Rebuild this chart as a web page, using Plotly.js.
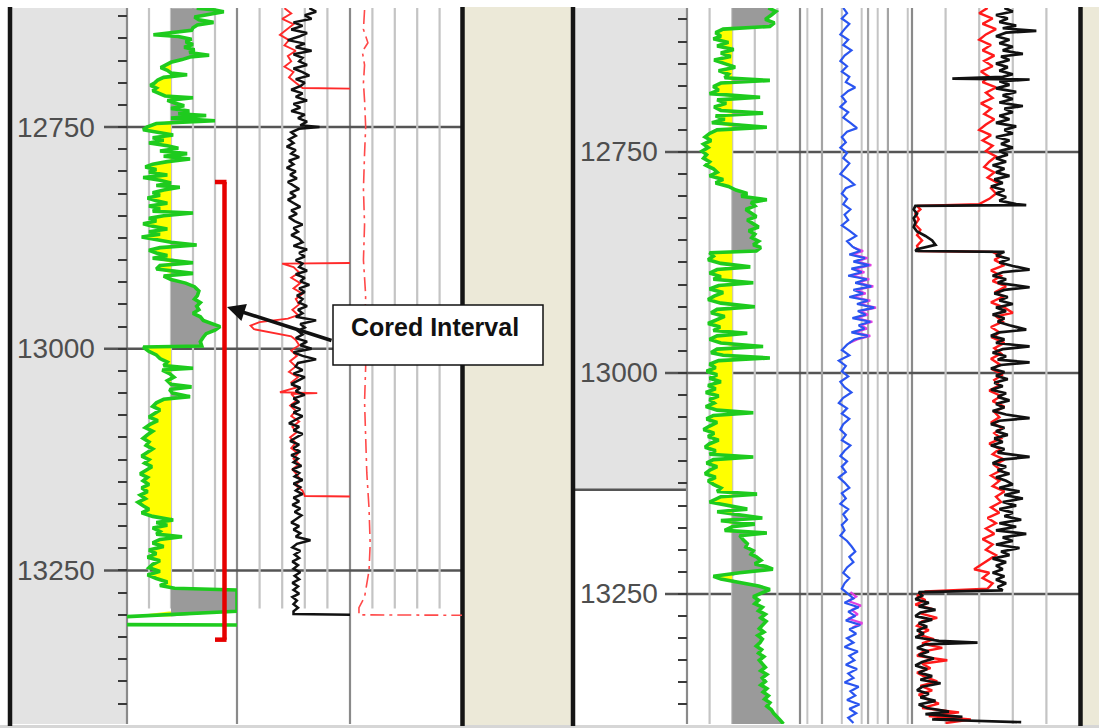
<!DOCTYPE html>
<html>
<head>
<meta charset="utf-8">
<script src="https://cdn.plot.ly/plotly-3.0.1.min.js"></script>
<style>
  html, body { margin: 0; padding: 0; background: #ffffff; }
  #plot { width: 1099px; height: 728px; }
</style>
</head>
<body>
<div id="plot"></div>
<script>
// ---------- depth annotations ----------
const depthLabels = [12750, 13000, 13250];
const coredInterval = [12812, 13328];   // top / base of the cored section (well A)
const grCutoff = 60;                     // shale / sand shading cutoff (API)

// ---------- Well A (left) : [depth, value] ----------
const wellA_gr = [
  [12616,95],[12618,120],[12620,132],[12623,110],[12626,92],[12629,98],[12632,118],[12635,96],[12638,90],[12641,88],
  [12644,60],[12646,36],[12648,70],[12651,88],[12654,80],[12657,90],[12660,78],[12663,92],[12666,85],[12669,112],
  [12671,86],[12674,75],[12677,60],[12680,52],[12683,46],[12686,55],[12689,60],[12691,82],[12694,50],[12697,42],
  [12700,38],[12703,32],[12706,40],[12709,35],[12712,45],[12715,52],[12717,90],[12720,55],[12723,65],[12726,78],
  [12729,60],[12732,85],[12735,70],[12737,108],[12740,60],[12743,120],[12746,40],[12750,27],[12753,22],[12756,45],
  [12759,63],[12762,35],[12765,50],[12768,30],[12771,55],[12774,70],[12777,45],[12780,82],[12783,50],[12786,86],
  [12789,55],[12792,35],[12795,25],[12798,40],[12801,30],[12804,55],[12807,22],[12810,45],[12813,60],[12816,40],
  [12818,72],[12821,50],[12824,35],[12827,45],[12830,28],[12833,40],[12836,55],[12839,30],[12842,45],[12845,35],
  [12847,90],[12850,50],[12853,30],[12856,40],[12859,22],[12862,35],[12865,55],[12868,30],[12871,45],[12874,20],
  [12877,40],[12880,60],[12883,95],[12886,45],[12889,30],[12892,40],[12895,55],[12898,35],[12903,90],[12906,45],
  [12910,40],[12915,90],[12918,50],[12922,60],[12926,80],[12930,92],[12935,98],[12940,96],[12944,92],[12948,100],
  [12952,95],[12956,98],[12960,90],[12964,100],[12968,104],[12971,115],[12975,127],[12979,120],[12983,108],[12987,104],
  [12992,100],[12997,102],[12998,22],[13003,30],[13007,40],[13011,45],[13015,55],[13019,50],[13022,90],[13024,48],
  [13028,58],[13032,64],[13036,55],[13040,60],[13043,88],[13046,58],[13050,62],[13054,86],[13057,50],[13061,40],
  [13065,35],[13069,45],[13073,38],[13077,30],[13081,42],[13085,32],[13089,25],[13093,35],[13097,28],[13101,22],
  [13105,30],[13109,26],[13113,35],[13117,28],[13121,20],[13125,30],[13129,24],[13133,34],[13137,25],[13141,18],
  [13145,28],[13149,22],[13153,30],[13157,20],[13161,28],[13165,18],[13169,25],[13173,15],[13177,22],[13181,30],
  [13185,20],[13189,35],[13193,63],[13196,40],[13199,55],[13202,35],[13206,45],[13209,40],[13212,75],[13215,45],
  [13219,35],[13223,50],[13227,30],[13231,40],[13235,28],[13239,45],[13243,35],[13247,30],[13251,45],[13255,28],
  [13259,40],[13263,55],[13267,45],[13270,65],[13272,150],[13296,150],[13302,0],
  [13306,null],[13311,0],[13311.5,150]
];
const wellA_t2Black = [
  [12616,64],[12620,70],[12624,60],[12628,66],[12632,50],[12636,58],[12640,48],[12644,62],[12648,55],[12652,45],
  [12656,60],[12660,52],[12664,66],[12668,50],[12672,58],[12676,55],[12680,62],[12684,50],[12688,58],[12692,64],
  [12696,52],[12700,60],[12704,56],[12708,48],[12712,58],[12716,52],[12720,62],[12724,50],[12728,56],[12732,48],
  [12736,60],[12740,54],[12744,62],[12748,56],[12750,73],[12752,55],[12756,48],[12760,52],[12764,46],[12768,50],
  [12772,44],[12776,52],[12780,48],[12784,55],[12788,46],[12792,50],[12796,44],[12800,52],[12804,47],[12808,53],
  [12812,45],[12816,50],[12820,55],[12824,47],[12828,52],[12832,45],[12836,50],[12840,56],[12844,48],[12848,53],
  [12852,46],[12856,51],[12860,58],[12864,50],[12868,54],[12872,48],[12876,55],[12880,58],[12884,50],[12888,62],
  [12892,55],[12896,60],[12900,52],[12904,58],[12908,55],[12912,62],[12916,52],[12920,60],[12924,56],[12928,64],
  [12932,55],[12936,60],[12940,53],[12944,58],[12948,55],[12952,62],[12956,54],[12960,58],[12964,52],[12968,70],
  [12972,56],[12976,60],[12980,54],[12984,58],[12988,52],[12992,62],[12996,56],[13000,66],[13004,50],[13008,58],
  [13012,70],[13016,54],[13020,52],[13024,58],[13028,50],[13032,60],[13036,54],[13040,48],[13044,56],[13048,52],
  [13052,60],[13056,50],[13060,55],[13064,48],[13068,56],[13072,50],[13076,58],[13080,52],[13084,46],[13088,55],
  [13092,50],[13096,58],[13100,52],[13104,47],[13108,55],[13112,50],[13116,56],[13120,48],[13124,54],[13128,50],
  [13132,57],[13136,49],[13140,55],[13144,51],[13148,58],[13152,50],[13156,56],[13160,52],[13164,58],[13168,50],
  [13172,55],[13176,49],[13180,56],[13184,51],[13188,57],[13192,52],[13196,48],[13200,55],[13204,50],[13208,56],
  [13212,52],[13216,65],[13220,53],[13224,49],[13228,56],[13232,51],[13236,55],[13240,49],[13244,54],[13248,50],
  [13252,56],[13256,51],[13260,55],[13264,49],[13268,54],[13272,50],[13276,55],[13280,49],[13284,53],[13288,50],
  [13292,54],[13296,50],[13299,50],[13300,100]
];
const wellA_t2Red = [
  [12616,42],[12622,48],[12628,40],[12634,50],[12640,44],[12646,38],[12652,46],[12658,42],[12664,52],[12670,45],
  [12676,48],[12682,42],[12688,50],[12694,46],[12700,52],[12705,58],[12706,58],[12707,120],[12903,120],[12904,40],
  [12908,50],[12914,55],[12920,48],[12926,56],[12932,50],[12938,58],[12944,52],[12950,55],[12956,49],[12962,54],
  [12966,45],[12970,20],[12974,12],[12978,15],[12982,30],[12986,48],[12990,52],[12996,55],[13002,48],[13008,53],
  [13014,47],[13020,52],[13026,46],[13032,54],[13038,48],[13044,52],[13049,38],[13050,71],[13051,48],[13058,53],
  [13064,47],[13070,52],[13076,48],[13082,55],[13088,49],[13094,53],[13100,47],[13106,52],[13112,48],[13118,54],
  [13124,50],[13130,55],[13136,49],[13142,53],[13148,56],[13154,52],[13160,58],[13166,60],[13167,120]
];
const wellA_t3Red = [
  [12618,13],[12640,12],[12655,16],[12665,11],[12680,13],[12700,12],[12720,13],[12750,14],[12780,13],[12820,12],
  [12860,13],[12900,12],[12940,14],[12980,13],[13020,14],[13060,13],[13100,14],[13140,15],[13180,17],[13220,18],
  [13250,17],[13280,13],[13292,8],[13300,8],[13300.5,100]
];

// ---------- Well B (right) : [depth, value] ----------
const wellB_gr = [
  [12587,108],[12591,118],[12595,112],[12600,104],[12604,116],[12608,110],[12611,48],[12615,38],[12619,45],[12622,35],
  [12626,55],[12630,40],[12634,62],[12638,45],[12642,58],[12646,36],[12650,50],[12654,64],[12658,42],[12662,55],
  [12666,50],[12669,110],[12672,45],[12676,35],[12680,42],[12684,30],[12688,97],[12691,40],[12695,52],[12699,36],
  [12703,45],[12706,101],[12709,38],[12713,50],[12717,33],[12722,106],[12725,40],[12729,30],[12733,24],[12737,32],
  [12741,22],[12745,28],[12749,20],[12753,26],[12757,22],[12761,30],[12765,25],[12769,35],[12773,40],[12777,30],
  [12781,48],[12785,38],[12789,55],[12793,65],[12797,80],[12800,72],[12804,106],[12807,85],[12811,90],[12815,78],
  [12819,85],[12823,92],[12827,80],[12831,88],[12835,95],[12839,82],[12843,90],[12847,86],[12851,95],[12855,88],
  [12858,98],[12862,92],[12864,30],[12868,35],[12872,28],[12876,45],[12880,84],[12883,40],[12887,30],[12891,45],
  [12894,35],[12898,88],[12901,42],[12905,30],[12909,48],[12913,36],[12917,28],[12921,45],[12925,90],[12928,40],
  [12932,32],[12936,50],[12940,38],[12944,28],[12948,44],[12952,35],[12955,80],[12958,40],[12962,30],[12966,45],
  [12970,101],[12973,40],[12977,32],[12980,48],[12983,110],[12986,42],[12990,30],[12994,38],[12998,26],[13002,40],
  [13006,30],[13010,45],[13014,28],[13018,38],[13022,25],[13026,42],[13030,30],[13034,36],[13038,25],[13042,40],
  [13045,88],[13048,35],[13052,26],[13056,40],[13060,30],[13064,22],[13068,36],[13072,28],[13076,42],[13080,30],
  [13084,24],[13088,38],[13092,30],[13095,88],[13098,35],[13102,26],[13106,40],[13110,30],[13114,24],[13118,38],
  [13122,28],[13126,35],[13130,45],[13134,40],[13137,93],[13140,45],[13146,30],[13150,55],[13154,80],[13157,40],
  [13161,70],[13164,100],[13167,45],[13171,90],[13174,60],[13178,50],[13181,106],[13184,70],[13189,75],[13193,80],
  [13197,78],[13201,88],[13205,85],[13208,92],[13212,98],[13216,90],[13219,105],[13222,114],[13226,70],[13230,35],
  [13233,45],[13237,70],[13241,95],[13245,110],[13249,100],[13253,88],[13257,95],[13261,90],[13265,100],[13269,95],
  [13273,104],[13277,98],[13281,105],[13285,100],[13289,96],[13293,102],[13297,94],[13301,100],[13305,97],[13309,92],
  [13313,99],[13317,95],[13321,102],[13325,96],[13329,100],[13333,104],[13337,98],[13341,106],[13345,100],[13349,104],
  [13353,98],[13357,106],[13361,101],[13365,108],[13369,103],[13373,110],[13377,106],[13381,112],[13385,115],[13389,120],
  [13393,124],[13397,128]
];
const wellB_t2Blue = [
  [12587,2.1],[12593,2.4],[12599,2.0],[12605,2.6],[12611,2.2],[12617,1.9],[12623,2.5],[12629,2.1],[12635,2.8],[12641,2.2],
  [12647,1.9],[12653,2.4],[12659,2.0],[12665,2.6],[12671,2.3],[12677,3.2],[12681,2.5],[12687,2.0],[12693,2.3],[12699,1.9],
  [12705,2.5],[12711,2.1],[12717,2.7],[12723,3.4],[12727,2.4],[12733,2.0],[12739,2.3],[12745,1.9],[12751,2.4],[12757,2.1],
  [12763,2.6],[12769,2.2],[12775,1.9],[12781,2.5],[12787,3.1],[12791,2.3],[12797,2.0],[12803,2.4],[12809,2.1],[12815,2.7],
  [12821,2.2],[12827,2.5],[12833,2.0],[12839,2.6],[12845,3.3],[12851,2.4],[12857,2.9],[12862,3.8],[12866,2.6],[12870,4.5],
  [12874,3.0],[12878,5.2],[12882,2.8],[12886,4.0],[12890,2.5],[12894,4.8],[12898,3.2],[12902,5.6],[12906,3.0],[12910,4.2],
  [12914,2.6],[12918,5.0],[12922,3.4],[12926,6.2],[12930,3.5],[12934,4.6],[12938,2.9],[12942,5.4],[12946,3.6],[12950,4.4],
  [12954,2.8],[12958,5.0],[12962,3.1],[12968,2.4],[12974,2.0],[12980,2.6],[12986,1.8],[12992,2.3],[12998,2.0],[13004,2.5],
  [13010,1.9],[13016,2.2],[13022,2.8],[13028,2.1],[13034,1.8],[13040,2.4],[13046,2.0],[13052,2.6],[13058,2.1],[13064,1.9],
  [13070,2.3],[13076,2.0],[13082,2.7],[13088,2.2],[13094,1.9],[13100,2.4],[13106,2.0],[13112,2.3],[13118,1.8],[13124,2.2],
  [13130,2.6],[13136,2.0],[13142,2.3],[13148,1.9],[13154,2.5],[13160,2.1],[13166,2.4],[13172,2.0],[13178,2.2],[13184,1.9],
  [13190,2.4],[13196,2.8],[13202,3.2],[13208,2.6],[13214,3.0],[13220,2.4],[13226,2.1],[13232,2.6],[13238,2.2],[13244,2.0],
  [13250,2.5],[13255,3.0],[13260,2.2],[13265,3.6],[13270,2.5],[13275,3.2],[13280,2.3],[13285,3.8],[13290,2.6],[13295,3.3],
  [13300,2.4],[13305,3.0],[13310,2.2],[13315,3.5],[13320,2.6],[13325,3.1],[13330,2.3],[13335,3.4],[13340,2.5],[13345,3.0],
  [13350,2.2],[13355,3.6],[13360,2.7],[13365,3.2],[13370,2.4],[13375,3.7],[13380,2.6],[13385,3.3],[13390,2.5],[13396,3.0]
];
const wellB_t2Mag = [
  [12858,3.0],[12862,4.2],[12866,2.9],[12870,4.9],[12874,3.3],[12878,5.6],[12882,3.1],[12886,4.4],[12890,2.8],[12894,5.2],
  [12898,3.5],[12902,6.0],[12906,3.3],[12910,4.6],[12914,2.9],[12918,5.4],[12922,3.7],[12926,6.6],[12930,3.8],[12934,5.0],
  [12938,3.2],[12942,5.8],[12946,3.9],[12950,4.8],[12954,3.1],[12958,5.4],[12962,3.4],[12966,2.6],
  [13000,null],
  [13248,2.7],[13253,3.3],[13258,2.5],[13263,3.9],[13268,2.8],[13273,3.5],[13278,2.5],[13283,4.1],[13288,2.9]
];
const wellB_t3Black = [
  [12587,55],[12591,60],[12595,50],[12599,57],[12603,52],[12607,62],[12610,54],[12613,74],[12615,56],[12619,50],
  [12623,58],[12627,52],[12631,60],[12635,54],[12639,66],[12642,53],[12646,58],[12650,50],[12654,57],[12658,52],
  [12662,60],[12665,54],[12667,24],[12668,70],[12670,52],[12674,58],[12678,50],[12682,62],[12686,54],[12690,60],
  [12694,52],[12698,66],[12701,55],[12705,60],[12709,52],[12713,58],[12717,50],[12721,62],[12725,55],[12729,60],
  [12733,50],[12737,58],[12741,53],[12745,60],[12749,52],[12753,57],[12757,50],[12761,56],[12765,48],[12769,55],
  [12773,50],[12777,58],[12781,49],[12785,54],[12789,47],[12793,55],[12797,50],[12801,56],[12805,52],[12809,62],
  [12810,68],[12811,2],[12815,1],[12820,3],[12825,1],[12830,2],[12835,1],[12840,3],[12845,8],[12850,12],
  [12855,14],[12860,3],[12862,2],[12863,55],[12867,50],[12871,58],[12875,52],[12879,60],[12883,70],[12886,54],
  [12890,48],[12894,56],[12898,51],[12903,70],[12906,55],[12910,49],[12914,57],[12918,52],[12922,60],[12926,50],
  [12930,56],[12934,48],[12938,55],[12942,51],[12946,58],[12951,68],[12954,52],[12958,47],[12962,55],[12966,50],
  [12970,70],[12973,54],[12977,48],[12981,56],[12985,51],[12988,70],[12991,53],[12995,47],[12999,55],[13003,50],
  [13007,57],[13011,49],[13015,54],[13019,47],[13023,56],[13027,51],[13031,58],[13035,50],[13039,55],[13043,48],
  [13047,56],[13051,70],[13054,52],[13058,47],[13062,55],[13066,50],[13070,57],[13074,49],[13078,54],[13082,47],
  [13086,55],[13090,51],[13095,70],[13098,53],[13102,48],[13106,56],[13110,51],[13114,58],[13118,50],[13122,56],
  [13126,60],[13130,52],[13134,64],[13138,55],[13142,66],[13146,54],[13150,62],[13154,52],[13158,60],[13162,55],
  [13166,65],[13170,52],[13174,62],[13178,50],[13182,68],[13186,54],[13190,60],[13194,50],[13198,64],[13202,53],
  [13206,58],[13210,48],[13214,56],[13218,50],[13222,54],[13226,48],[13230,55],[13234,50],[13238,56],[13242,51],
  [13246,54],[13248,4],[13252,6],[13256,2],[13260,10],[13264,4],[13268,14],[13271,5],[13275,2],[13279,12],
  [13283,4],[13287,9],[13291,3],[13295,7],[13299,2],[13303,16],[13305,39],[13307,8],[13311,3],[13315,10],
  [13319,4],[13323,13],[13327,6],[13331,2],[13335,9],[13339,4],[13343,12],[13347,5],[13351,17],[13355,6],
  [13359,3],[13363,10],[13367,5],[13371,14],[13375,4],[13379,9],[13383,22],[13386,8],[13389,30],[13392,12],[13395,65]
];
const wellB_t3Red = [
  [12587,45],[12593,40],[12599,48],[12605,42],[12611,50],[12617,44],[12623,40],[12629,47],[12635,42],[12641,49],
  [12647,43],[12653,48],[12659,41],[12665,46],[12671,42],[12677,50],[12683,44],[12689,48],[12695,41],[12701,47],
  [12707,43],[12713,49],[12719,44],[12725,40],[12731,47],[12737,42],[12743,48],[12749,44],[12755,50],[12761,46],
  [12767,43],[12773,49],[12779,45],[12785,51],[12791,47],[12797,50],[12803,46],[12809,40],[12811,3],[12815,5],
  [12820,2],[12826,4],[12832,2],[12838,5],[12844,3],[12850,6],[12856,3],[12862,4],[12863,48],[12868,53],
  [12872,49],[12878,55],[12884,47],[12890,53],[12896,48],[12902,56],[12908,50],[12914,54],[12920,47],[12926,55],
  [12932,60],[12936,50],[12942,54],[12948,47],[12954,52],[12960,48],[12966,55],[12972,49],[12978,53],[12984,47],
  [12990,52],[12996,48],[13002,54],[13008,49],[13014,52],[13020,46],[13026,53],[13032,48],[13038,55],[13044,49],
  [13050,52],[13056,47],[13062,54],[13068,49],[13074,53],[13080,46],[13086,52],[13092,48],[13098,55],[13104,49],
  [13110,53],[13116,47],[13122,52],[13128,48],[13134,55],[13140,50],[13146,53],[13152,47],[13158,52],[13164,45],
  [13170,50],[13176,44],[13182,49],[13188,42],[13194,48],[13200,44],[13206,50],[13212,45],[13218,40],[13222,37],
  [13226,46],[13232,42],[13238,48],[13244,45],[13247,8],[13252,3],[13257,8],[13262,2],[13267,12],[13272,5],
  [13277,15],[13281,6],[13286,3],[13291,10],[13296,4],[13301,13],[13306,6],[13311,18],[13315,7],[13320,3],
  [13325,21],[13329,6],[13334,11],[13339,3],[13344,8],[13349,15],[13354,5],[13359,12],[13364,4],[13369,9],
  [13374,16],[13379,6],[13384,28],[13388,10],[13392,35],[13396,20]
];

// ---------- page geometry (pixels of the 1099 x 728 figure) ----------
const W = 1099, H = 728;
const PX = v => v / W;
const PY = v => 1 - v / H;
const TOP = 8, BOT = 724;

const leftRange  = [13423.1, 12615.8];   // well A depth window (reversed)
const rightRange = [13397.1, 12587.1];   // well B depth window (reversed)
const gridEndA = 13293;                  // grid stops where well A data ends
const greyEndB = 13132;                  // depth-track shading ends for well B
const logRange = [0.464, 23.2];          // log track scale (well B, track 2)

function hidden(domain, range, anchor, extra) {
  return Object.assign({
    domain: domain, range: range, anchor: anchor,
    showgrid: false, zeroline: false, showline: false,
    showticklabels: false, ticks: '', fixedrange: true
  }, extra || {});
}

function curve(pairs, xa, ya, color, width, dash) {
  return {
    x: pairs.map(p => p[1]), y: pairs.map(p => p[0]),
    xaxis: xa, yaxis: ya, type: 'scatter', mode: 'lines',
    line: { color: color, width: width, dash: dash || 'solid' },
    connectgaps: false, hoverinfo: 'skip'
  };
}

// yellow (sand) and grey (shale) shading around the GR cutoff
function grShading(pairs, xa, ya) {
  const seg = [];
  for (const p of pairs) { if (p[1] === null) break; seg.push(p); }
  const d = seg.map(p => p[0]);
  const base = { y: d, xaxis: xa, yaxis: ya, type: 'scatter', mode: 'lines',
                 line: { width: 0, color: 'rgba(0,0,0,0)' }, hoverinfo: 'skip' };
  const cut = Object.assign({}, base, { x: d.map(() => grCutoff) });
  const sand = Object.assign({}, base, { x: seg.map(p => Math.min(p[1], grCutoff)),
                 fill: 'tonextx', fillcolor: '#ffff00' });
  const cut2 = Object.assign({}, base, { x: d.map(() => grCutoff) });
  const shale = Object.assign({}, base, { x: seg.map(p => Math.max(p[1], grCutoff)),
                 fill: 'tonextx', fillcolor: '#9a9a9a' });
  return [cut, sand, cut2, shale];
}

const traces = [].concat(
  grShading(wellA_gr, 'x', 'y'),
  [curve(wellA_gr, 'x', 'y', '#1ecb1e', 3.6)],
  [curve(wellA_t2Red, 'x2', 'y', '#ff2a2a', 1.9)],
  [curve(wellA_t2Black, 'x2', 'y', '#111111', 2.5)],
  [curve(wellA_t3Red, 'x3', 'y', '#ff4a4a', 1.6, '14px,5px,3px,5px')],
  grShading(wellB_gr, 'x4', 'y2'),
  [curve(wellB_gr, 'x4', 'y2', '#1ecb1e', 3.6)],
  [curve(wellB_t2Mag, 'x5', 'y2', '#e040e0', 2.2)],
  [curve(wellB_t2Blue, 'x5', 'y2', '#2a55f0', 2.2)],
  [curve(wellB_t3Red, 'x6', 'y2', '#ff1a1a', 2.4)],
  [curve(wellB_t3Black, 'x6', 'y2', '#111111', 2.7)]
);

// ---------- background panels, grids, depth lines ----------
const shapes = [];
function rect(x0, x1, y0, y1, color, yref) {
  shapes.push({ type: 'rect', layer: 'below', xref: 'paper', yref: yref || 'paper',
    x0: x0, x1: x1, y0: y0, y1: y1, fillcolor: color, line: { width: 0 } });
}
function vline(xref, x, yref, y0, y1, color, width) {
  shapes.push({ type: 'line', layer: 'below', xref: xref, yref: yref,
    x0: x, x1: x, y0: y0, y1: y1, line: { color: color, width: width } });
}
function hline(x0, x1, yref, y, color, width) {
  shapes.push({ type: 'line', layer: 'below', xref: 'paper', yref: yref,
    x0: x0, x1: x1, y0: y, y1: y, line: { color: color, width: width } });
}

// depth-track shading and the beige gaps
rect(PX(12), PX(127), PY(BOT), PY(TOP), '#e3e3e3');
rect(PX(463), PX(573), 0, PY(7), '#ece9d8');
rect(PX(1082), 1, 0, PY(7), '#ece9d8');
rect(PX(575), PX(687), greyEndB, rightRange[1], '#e3e3e3', 'y2');
hline(PX(575), PX(687), 'y2', greyEndB, '#555555', 2.5);
rect(0, 1, 0, PY(BOT + 1), '#d6d6d6');

// track grid lines
const gridLight = '#c4c4c4', gridDark = '#8a8a8a';
[30, 60, 90, 120].forEach(v => vline('x', v, 'y', leftRange[1], gridEndA, gridLight, 2.2));
[20, 40, 60, 80].forEach(v => vline('x2', v, 'y', leftRange[1], gridEndA, gridLight, 2.2));
[20, 40, 60, 80].forEach(v => vline('x3', v, 'y', leftRange[1], gridEndA, gridLight, 2.2));
[30, 60, 90, 120].forEach(v => vline('x4', v, 'y2', rightRange[1], rightRange[0], gridLight, 2.2));
// log-track lines (shape positions are data values on a log axis)
[0.6, 2, 4, 7, 20].forEach(v => vline('x5', v, 'y2', rightRange[1], rightRange[0], gridLight, 2));
[1, 5, 10].forEach(v => vline('x5', v, 'y2', rightRange[1], rightRange[0], '#a4a4a4', 2.2));
[20, 40, 60, 80].forEach(v => vline('x6', v, 'y2', rightRange[1], rightRange[0], gridLight, 2.2));

// track borders
[127, 237, 350].forEach(x => vline('paper', PX(x), 'paper', PY(BOT), PY(TOP), gridDark, 2.2));
[687, 800, 912].forEach(x => vline('paper', PX(x), 'paper', PY(BOT), PY(TOP), gridDark, 2.2));

// depth reference lines
depthLabels.forEach(d => hline(PX(104), PX(462), 'y', d, '#555555', 2.6));
depthLabels.forEach(d => hline(PX(665), PX(1080), 'y2', d, '#555555', 2.6));

// panel frames
[10, 462.5, 573, 1080.5].forEach(x => vline('paper', PX(x), 'paper', PY(BOT + 2), PY(TOP - 1), '#151515', 4.5));

// cored interval bracket (drawn above the curves)
function redSeg(x0, x1, y0, y1) {
  shapes.push({ type: 'line', layer: 'above', xref: 'paper', yref: 'y',
    x0: PX(x0), x1: PX(x1), y0: y0, y1: y1, line: { color: '#e60000', width: 4.5 } });
}
redSeg(224.5, 224.5, coredInterval[0], coredInterval[1]);
redSeg(215, 226.5, coredInterval[0], coredInterval[0]);
redSeg(215, 226.5, coredInterval[1], coredInterval[1]);

// callout box
shapes.push({ type: 'rect', layer: 'above', xref: 'paper', yref: 'paper',
  x0: PX(333), x1: PX(543), y0: PY(365), y1: PY(305),
  fillcolor: '#ffffff', line: { color: '#111111', width: 1.5 } });

// ---------- text ----------
const labelFont = { family: 'Liberation Sans, Arial, sans-serif', size: 28, color: '#4e4e4e' };
const annotations = [];
depthLabels.forEach(d => {
  annotations.push({ xref: 'paper', yref: 'y', x: PX(97), y: d, text: String(d),
    xanchor: 'right', yanchor: 'middle', showarrow: false, font: labelFont });
  annotations.push({ xref: 'paper', yref: 'y2', x: PX(660), y: d, text: String(d),
    xanchor: 'right', yanchor: 'middle', showarrow: false, font: labelFont });
});
annotations.push({ xref: 'paper', yref: 'paper', x: PX(349), y: PY(327), text: '<b>Cored Interval</b>',
  xanchor: 'left', yanchor: 'middle', showarrow: false,
  font: { family: 'Liberation Sans, Arial, sans-serif', size: 25, color: '#111111' } });
annotations.push({ xref: 'paper', yref: 'paper', x: PX(227), y: PY(307), text: '',
  showarrow: true, arrowhead: 2, arrowsize: 1, arrowwidth: 3.6, arrowcolor: '#111111',
  axref: 'pixel', ayref: 'pixel', ax: 106, ay: 34, standoff: 0, startstandoff: 0 });

const layout = {
  width: W, height: H,
  margin: { l: 0, r: 0, t: 0, b: 0, pad: 0 },
  paper_bgcolor: '#ffffff', plot_bgcolor: 'rgba(0,0,0,0)',
  showlegend: false,
  xaxis:  hidden([PX(127), PX(237)], [0, 150], 'y'),
  xaxis2: hidden([PX(237), PX(350)], [0, 100], 'y'),
  xaxis3: hidden([PX(350), PX(462)], [0, 100], 'y'),
  xaxis4: hidden([PX(687), PX(800)], [0, 150], 'y2'),
  xaxis5: hidden([PX(800), PX(912)], logRange.map(Math.log10), 'y2', { type: 'log' }),
  xaxis6: hidden([PX(912), PX(1080)], [0, 100], 'y2'),
  yaxis: {
    domain: [PY(BOT), PY(TOP)], range: leftRange, anchor: 'free', position: PX(127), side: 'left',
    ticks: 'outside', ticklen: 9, tickwidth: 2, tickcolor: '#3a3a3a', tick0: 12750, dtick: 25,
    showticklabels: false, showgrid: false, zeroline: false, showline: false, fixedrange: true
  },
  yaxis2: {
    domain: [PY(BOT), PY(TOP)], range: rightRange, anchor: 'free', position: PX(687), side: 'left',
    ticks: 'outside', ticklen: 9, tickwidth: 2, tickcolor: '#3a3a3a', tick0: 12750, dtick: 25,
    showticklabels: false, showgrid: false, zeroline: false, showline: false, fixedrange: true
  },
  shapes: shapes,
  annotations: annotations
};

Plotly.newPlot('plot', traces, layout, { staticPlot: true, displayModeBar: false });
</script>
</body>
</html>
